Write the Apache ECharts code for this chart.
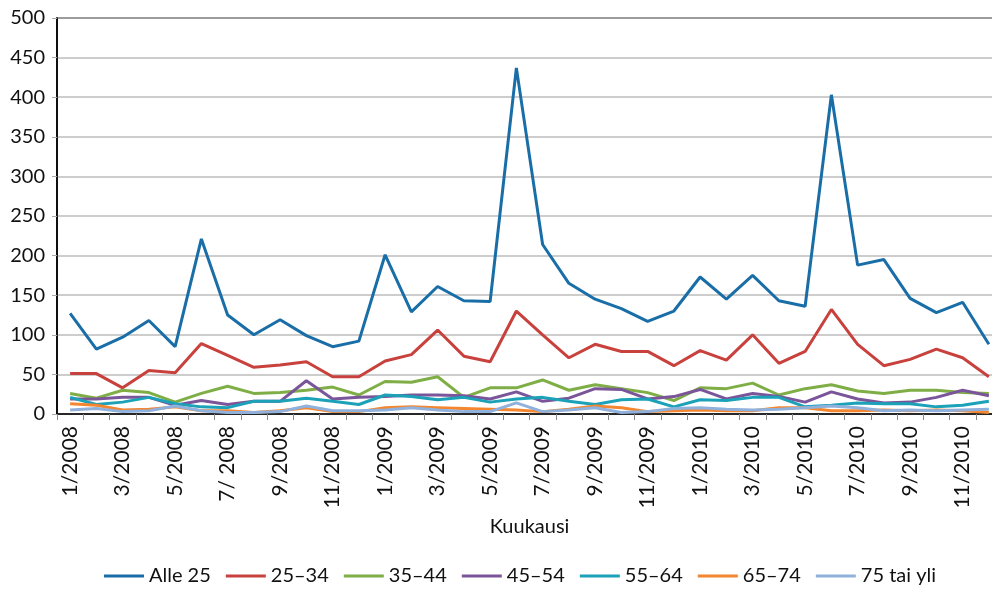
<!DOCTYPE html>
<html>
<head>
<meta charset="utf-8">
<script src="https://cdn.jsdelivr.net/npm/echarts@6/dist/echarts.min.js"></script>
<style>
html,body{margin:0;padding:0;background:#fff;overflow:hidden;}
#chart{width:992px;height:589px;}
</style>
</head>
<body>
<div id="chart"></div>
<script>
var months = ["1/2008","2/2008","3/2008","4/2008","5/2008","6/2008","7/ 2008","8/2008","9/2008","10/2008","11/2008","12/2008",
  "1/2009","2/2009","3/2009","4/2009","5/2009","6/2009","7/2009","8/2009","9/2009","10/2009","11/2009","12/2009",
  "1/2010","2/2010","3/2010","4/2010","5/2010","6/2010","7/2010","8/2010","9/2010","10/2010","11/2010","12/2010"];
var seriesNames = ["Alle 25","25–34","35–44","45–54","55–64","65–74","75 tai yli"];
var alle25 = [127,82,97,118,85,221,125,100,119,99,85,92, 201,129,161,143,142,437,214,165,145,133,117,130, 173,145,175,143,136,403,188,195,146,128,141,88];
var v2534 = [51,51,33,55,52,89,74,59,62,66,47,47, 67,75,106,73,66,130,100,71,88,79,79,61, 80,68,100,64,79,132,88,61,69,82,71,47];
var v3544 = [26,20,30,27,15,26,35,26,27,30,34,24, 41,40,47,21,33,33,43,30,37,32,27,17, 33,32,39,24,32,37,29,26,30,30,27,26];
var v4554 = [19,19,21,21,11,17,12,16,16,42,19,21, 22,24,24,23,19,28,16,20,32,31,19,22, 31,19,26,22,15,28,19,14,15,21,30,23];
var v5564 = [21,12,15,21,13,9,8,16,16,20,16,12, 24,22,18,21,15,19,21,16,12,18,19,9, 18,17,21,21,9,11,14,13,13,9,11,16];
var v6574 = [13,11,5,6,9,4,4,2,4,8,3,3, 8,9,8,7,6,5,3,6,10,8,3,4, 5,4,4,8,8,4,4,5,4,5,4,2];
var v75 = [5,7,3,4,10,4,2,2,3,10,4,4, 5,8,5,3,3,14,3,5,8,2,3,7, 8,6,5,6,8,10,8,4,5,4,5,6];
var yTicks = {min:0, max:500, interval:50};

var colors = ["#1a6ea8","#c8413d","#7eae45","#7a5599","#1ba1b8","#f4862f","#8fb1dc"];
var allData = [alle25, v2534, v3544, v4554, v5564, v6574, v75];
var FONT = "Lato";

var chart = echarts.init(document.getElementById('chart'));
chart.setOption({
  animation:false,
  backgroundColor:'#fff',
  color: colors,
  textStyle:{fontFamily:FONT},
  grid:{left:57, top:18, width:945, bottom:175, outerBoundsMode:'none', containLabel:false, show:true, borderColor:'#000', borderWidth:1.5, backgroundColor:'transparent'},
  legend:{
    left:104, top:566, padding:0, itemWidth:40, itemHeight:3, itemGap:15, icon:'rect',
    textStyle:{fontFamily:FONT, fontSize:20, color:'#111'},
    data: seriesNames
  },
  xAxis:{
    type:'category', data:months, boundaryGap:true,
    name:'Kuukausi', nameLocation:'middle', nameGap:103,
    nameTextStyle:{fontFamily:FONT, fontSize:20, color:'#111'},
    axisLine:{lineStyle:{color:'#000', width:1.5}},
    axisTick:{show:true, interval:0, length:6, lineStyle:{color:'#888'}},
    axisLabel:{interval:1, rotate:90, fontSize:21, color:'#111', margin:12, fontFamily:FONT},
    splitLine:{show:false}
  },
  yAxis:{
    type:'value', min:yTicks.min, max:yTicks.max, interval:yTicks.interval,
    axisLine:{show:true, lineStyle:{color:'#000', width:1.5}},
    axisTick:{show:true, length:5, lineStyle:{color:'#aaa'}},
    axisLabel:{fontSize:20, color:'#111', margin:12, fontFamily:FONT},
    splitLine:{show:true, lineStyle:{color:'#bdbdbd', width:1.5}}
  },
  series: seriesNames.map(function(n,i){
    return {name:n, type:'line', data:allData[i], symbol:'none', lineStyle:{width:3, color:colors[i]}, itemStyle:{color:colors[i]}};
  })
});
</script>
</body>
</html>
